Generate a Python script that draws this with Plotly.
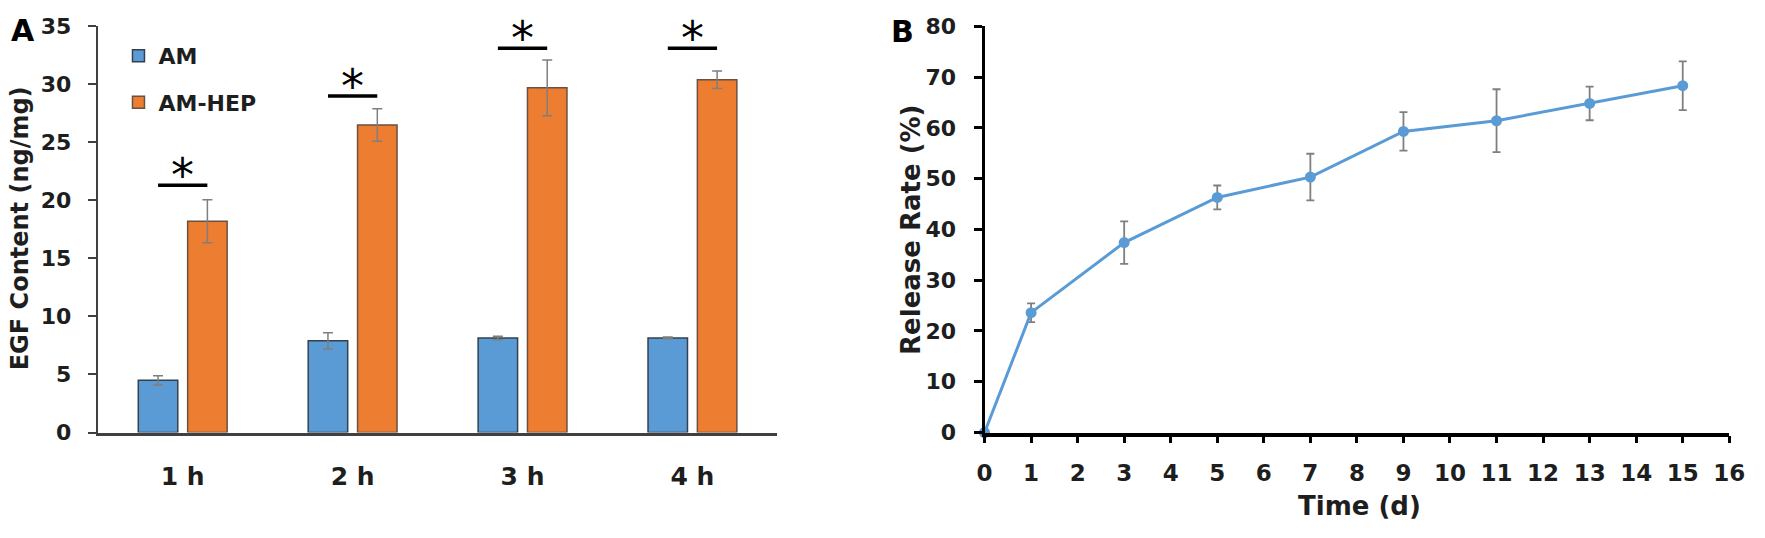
"""Two-panel figure: EGF loading of AM vs AM-HEP (A) and cumulative EGF release (B)."""

import plotly.graph_objects as go

# ---- panel A data -------------------------------------------------------
timepoints = ["1 h", "2 h", "3 h", "4 h"]
am_mean = [4.5, 7.9, 8.15, 8.15]
am_err = [0.4, 0.7, 0.15, 0.08]
hep_mean = [18.2, 26.5, 29.7, 30.4]
hep_err = [1.85, 1.4, 2.4, 0.75]
sig_level = [21.3, 29.0, 33.1, 33.1]  # height of the "*" bars

# ---- panel B data -------------------------------------------------------
days = [0, 1, 3, 5, 7, 9, 11, 13, 15]
release = [0, 23.6, 37.4, 46.3, 50.3, 59.3, 61.4, 64.8, 68.3]
release_err = [0, 1.85, 4.2, 2.35, 4.6, 3.8, 6.2, 3.3, 4.8]

W, H = 1765, 538
FONT = "DejaVu Sans"
INK = "#1e1e1e"
BLUE = "#5b9bd5"
ORANGE = "#ed7d31"
ERR = "#7f7f7f"


def px_x(p):
    return p / W


def px_y(p):
    return 1 - p / H


fig = go.Figure()

fig.add_trace(go.Bar(
    x=timepoints, y=am_mean, name="AM", legendgroup="am",
    marker=dict(color=BLUE, line=dict(color="#34404c", width=1.5)),
    error_y=dict(type="data", array=am_err, color=ERR, thickness=1.5, width=5),
    xaxis="x", yaxis="y",
))
fig.add_trace(go.Bar(
    x=timepoints, y=hep_mean, name="AM-HEP", legendgroup="hep",
    marker=dict(color=ORANGE, line=dict(color="#6a5040", width=1.5)),
    error_y=dict(type="data", array=hep_err, color=ERR, thickness=1.5, width=5),
    xaxis="x", yaxis="y",
))

fig.add_trace(go.Scatter(
    x=days, y=release, mode="lines+markers", showlegend=False,
    line=dict(color=BLUE, width=3), marker=dict(color=BLUE, size=11),
    error_y=dict(type="data", array=release_err, color=ERR, thickness=1.8, width=4),
    cliponaxis=False, xaxis="x2", yaxis="y2",
))

# significance bars + stars over each time point
shapes = []
annotations = []
for i, lvl in enumerate(sig_level):
    shapes.append(dict(type="line", xref="x", yref="y", x0=i - 0.145, x1=i + 0.145,
                       y0=lvl, y1=lvl, line=dict(color="black", width=3.5)))
    annotations.append(dict(xref="x", yref="y", x=i, y=lvl, text="*", showarrow=False,
                            xanchor="center", yanchor="middle", yshift=10,
                            font=dict(family=FONT, size=46, color="black")))

label_font = dict(family=FONT, size=26, color=INK, weight="bold")


def note(x, y, text, font, angle=0):
    """Paper-anchored text placed by pixel centre."""
    return dict(xref="paper", yref="paper", x=px_x(x), y=px_y(y), text=text,
                textangle=angle, showarrow=False, xanchor="center", yanchor="middle",
                font=font)


annotations += [
    note(15, 19, "A", dict(family=FONT, size=30, color="black", weight="bold")),
    note(907, 20, "B", dict(family=FONT, size=30, color="black", weight="bold")),
    note(13, 227, "EGF Content (ng/mg)", dict(label_font, size=24), -90),
    note(916, 229, "Release Rate (%)", label_font, -90),
    note(1370, 518, "Time (d)", label_font),
]

tick_font = dict(family=FONT, size=22, color=INK, weight="bold")

fig.update_layout(
    width=W, height=H, margin=dict(l=0, r=0, t=0, b=0),
    paper_bgcolor="white", plot_bgcolor="white",
    barmode="group", bargap=0.419, bargroupgap=0.2,
    showlegend=True,
    legend=dict(x=px_x(112), y=px_y(24), xanchor="left", yanchor="top",
                bgcolor="rgba(0,0,0,0)", tracegroupgap=15,
                font=dict(family=FONT, size=22, color=INK, weight="bold")),
    xaxis=dict(domain=[px_x(91), px_x(780)], range=[-0.5, 3.5], type="category",
               showline=True, linecolor="#404040", linewidth=2.5, ticks="",
               showgrid=False, zeroline=False, ticklabelstandoff=20,
               tickfont=dict(family=FONT, size=25, color=INK, weight="bold"),
               anchor="y", fixedrange=True),
    yaxis=dict(domain=[px_y(441), px_y(15)], range=[0, 35], dtick=5,
               showline=True, linecolor="#404040", linewidth=2,
               ticks="outside", ticklen=8, tickwidth=2, tickcolor="#404040",
               showgrid=False, zeroline=False, ticklabelstandoff=12,
               tickfont=tick_font, anchor="x"),
    xaxis2=dict(domain=[px_x(990), px_x(1745)], range=[0, 16], dtick=1,
                showline=True, linecolor="black", linewidth=3.5,
                ticks="outside", ticklen=7, tickwidth=2.5, tickcolor="black",
                showgrid=False, zeroline=False, ticklabelstandoff=10,
                tickfont=dict(tick_font, size=23), anchor="y2"),
    yaxis2=dict(domain=[px_y(441), px_y(15)], range=[0, 80], dtick=10,
                showline=True, linecolor="black", linewidth=3,
                ticks="outside", ticklen=8, tickwidth=2.5, tickcolor="black",
                showgrid=False, zeroline=False, ticklabelstandoff=13,
                tickfont=tick_font, anchor="x2"),
    shapes=shapes,
    annotations=annotations,
)

# body margin off so the 1765x538 figure sits flush in the window
fig.write_html(
    "out.html",
    config={"displayModeBar": False},
    post_script="document.body.style.margin='0';document.body.style.overflow='hidden';",
)
